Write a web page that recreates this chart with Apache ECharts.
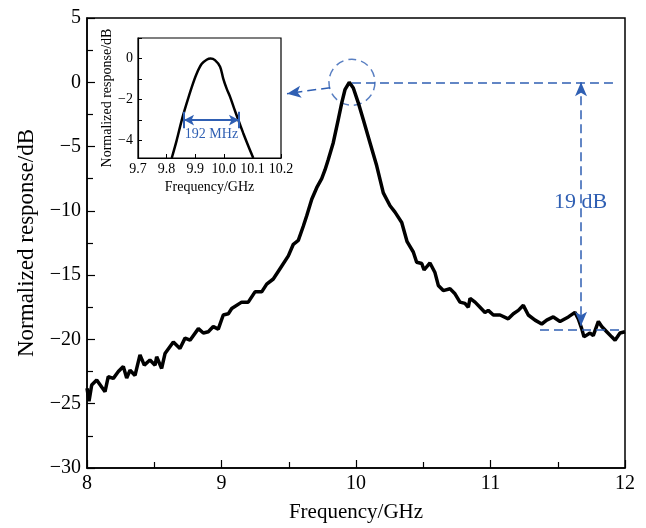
<!DOCTYPE html>
<html>
<head>
<meta charset="utf-8">
<script src="https://cdn.jsdelivr.net/npm/echarts@6/dist/echarts.min.js"></script>
<style>
html, body { margin: 0; padding: 0; background: #fff; }
#chart { width: 646px; height: 528px; }
</style>
</head>
<body>
<div id="chart"></div>
<script>
// main trace
var freqMain = [8.000, 8.015, 8.035, 8.072, 8.109, 8.134, 8.158, 8.196, 8.233, 8.270,
	8.295, 8.320, 8.357, 8.394, 8.426, 8.468, 8.506, 8.518, 8.555, 8.580,
	8.642, 8.691, 8.729, 8.766, 8.828, 8.865, 8.902, 8.939, 8.976, 9.013,
	9.051, 9.076, 9.150, 9.199, 9.249, 9.299, 9.336, 9.385, 9.435, 9.497,
	9.534, 9.571, 9.608, 9.633, 9.671, 9.708, 9.745, 9.770, 9.794, 9.831,
	9.868, 9.894, 9.918, 9.950, 9.980, 10.017, 10.054, 10.104, 10.154, 10.203,
	10.253, 10.290, 10.340, 10.380, 10.426, 10.451, 10.489, 10.506, 10.550, 10.587,
	10.612, 10.649, 10.699, 10.736, 10.773, 10.810, 10.835, 10.848, 10.885, 10.922,
	10.959, 10.983, 11.021, 11.071, 11.132, 11.170, 11.207, 11.244, 11.281, 11.331,
	11.381, 11.418, 11.467, 11.517, 11.579, 11.628, 11.653, 11.678, 11.695, 11.740,
	11.764, 11.802, 11.827, 11.864, 11.901, 11.926, 11.963, 12.000];
var respMain = [-23.8, -24.8, -23.55, -23.16, -23.7, -24.06, -22.9, -23.03, -22.5, -22.1,
	-23.0, -22.4, -22.8, -21.2, -22.0, -21.6, -22.0, -21.35, -22.26, -21.1,
	-20.2, -20.7, -19.9, -20.06, -19.16, -19.5, -19.4, -19.0, -19.2, -18.1,
	-18.0, -17.6, -17.1, -17.1, -16.3, -16.3, -15.7, -15.3, -14.5, -13.5,
	-12.6, -12.3, -11.2, -10.4, -9.1, -8.2, -7.5, -6.8, -6.0, -4.7,
	-2.9, -1.6, -0.58, 0, -0.44, -1.6, -2.9, -4.7, -6.5, -8.6,
	-9.6, -10.1, -10.9, -12.4, -13.2, -14.0, -14.1, -14.6, -14.05, -14.8,
	-15.8, -16.2, -16.06, -16.45, -17.1, -17.2, -17.5, -16.8, -17.1, -17.5,
	-17.9, -17.74, -18.1, -18.1, -18.4, -18.0, -17.74, -17.35, -18.1, -18.5,
	-18.8, -18.5, -18.25, -18.6, -18.25, -17.9, -18.4, -19.16, -19.8, -19.5,
	-19.7, -18.6, -19.0, -19.4, -19.8, -20.06, -19.5, -19.4];

// zoomed peak (inset)
var freqInset = [9.818, 9.835, 9.853, 9.870, 9.888, 9.905, 9.923, 9.940, 9.954, 9.969,
	9.987, 9.998, 10.010, 10.022, 10.036, 10.051, 10.068, 10.086, 10.103];
var respInset = [-4.85, -4.0, -3.0, -2.19, -1.39, -0.74, -0.26, -0.06, 0, -0.08,
	-0.4, -0.98, -1.47, -1.87, -2.43, -3.0, -3.64, -4.28, -4.85];

var mainYTicks = [5, 0, -5, -10, -15, -20, -25, -30];
var insetYLabels = [0, -2, -4];
var insetYTicks = [1, 0, -1, -2, -3, -4];

// annotation values
var peakPoint = [9.97, 0];
var dropTop = 0, dropBottom = -18.93, dropFreq = 11.673;
var floorLevel = -19.24, floorFrom = 11.368, floorTo = 11.985;
var bwLeft = 9.861, bwRight = 10.053, bwLevel = -3;

var blue = '#2f5fb3';
var serif = 'Liberation Serif';

function zip(a, b) {
	var out = [];
	for (var i = 0; i < a.length; i++) out.push([a[i], b[i]]);
	return out;
}
function minus(v) {
	return v < 0 ? '\u2212' + Math.abs(v) : String(v);
}

var chart = echarts.init(document.getElementById('chart'));
var option = {
	animation: false,
	grid: [
		{
			left: 87, top: 18, width: 538, height: 452,
			show: true, borderColor: '#000', borderWidth: 1.5, backgroundColor: '#fff'
		},
		{
			left: 138, top: 38, width: 143, height: 120,
			show: true, borderColor: '#000', borderWidth: 1.2, backgroundColor: '#fff'
		}
	],
	xAxis: [
		{
			gridIndex: 0, type: 'value', min: 8, max: 12, interval: 1,
			name: 'Frequency/GHz', nameLocation: 'middle', nameGap: 34,
			nameTextStyle: { fontFamily: serif, fontSize: 21, color: '#000' },
			axisLine: { onZero: false, lineStyle: { color: '#000', width: 1.5 } },
			axisTick: { inside: true, length: 8, lineStyle: { color: '#000', width: 1.2 } },
			minorTick: { show: true, splitNumber: 2, length: 6, lineStyle: { color: '#000', width: 1.2 } },
			axisLabel: { fontFamily: serif, fontSize: 20, color: '#000', margin: 6 },
			splitLine: { show: false }
		},
		{
			gridIndex: 1, type: 'value', min: 9.7, max: 10.2, interval: 0.1,
			name: 'Frequency/GHz', nameLocation: 'middle', nameGap: 22,
			nameTextStyle: { fontFamily: serif, fontSize: 14, color: '#000' },
			axisLine: { onZero: false, lineStyle: { color: '#000', width: 1.2 } },
			axisTick: { inside: true, length: 4, lineStyle: { color: '#000' } },
			axisLabel: {
				fontFamily: serif, fontSize: 14, color: '#000', margin: 4,
				formatter: function (v) { return v.toFixed(1); }
			},
			splitLine: { show: false }
		}
	],
	yAxis: [
		{
			gridIndex: 0, type: 'value', min: -30, max: 5, interval: 5,
			name: 'Normalized response/dB', nameLocation: 'middle', nameGap: 45,
			nameTextStyle: { fontFamily: serif, fontSize: 23, color: '#000' },
			axisLine: { onZero: false, lineStyle: { color: '#000', width: 1.5 } },
			axisTick: { inside: true, length: 8, lineStyle: { color: '#000', width: 1.2 } },
			minorTick: { show: true, splitNumber: 2, length: 6, lineStyle: { color: '#000', width: 1.2 } },
			axisLabel: {
				fontFamily: serif, fontSize: 20, color: '#000', margin: 6,
				customValues: mainYTicks, formatter: minus
			},
			splitLine: { show: false }
		},
		{
			gridIndex: 1, type: 'value', min: -4.85, max: 1,
			name: 'Normalized response/dB', nameLocation: 'middle', nameGap: 21,
			nameTextStyle: { fontFamily: serif, fontSize: 14, color: '#000' },
			axisLine: { onZero: false, lineStyle: { color: '#000', width: 1.2 } },
			axisTick: { inside: true, length: 4, customValues: insetYTicks, lineStyle: { color: '#000' } },
			axisLabel: {
				fontFamily: serif, fontSize: 14, color: '#000', margin: 5,
				customValues: insetYLabels, formatter: minus
			},
			splitLine: { show: false }
		}
	],
	series: [
		{
			name: 'response',
			type: 'line',
			xAxisIndex: 0, yAxisIndex: 0,
			data: zip(freqMain, respMain),
			showSymbol: false,
			lineStyle: { color: '#000', width: 3.5 },
			markLine: {
				silent: true,
				symbolSize: [9, 14],
				label: { show: false },
				lineStyle: { color: blue, width: 1.5, type: [9, 5] },
				data: [
					[{ coord: [peakPoint[0], dropTop], symbol: 'none' }, { coord: [11.926, dropTop], symbol: 'none' }],
					[{ coord: [floorFrom, floorLevel], symbol: 'none' }, { coord: [floorTo, floorLevel], symbol: 'none' }],
					[{ coord: [dropFreq, dropTop], symbol: 'arrow' }, { coord: [dropFreq, dropBottom], symbol: 'arrow' }],
					[{ coord: [9.807, -0.42], symbol: 'none' }, { coord: [9.487, -0.885], symbol: 'arrow' }]
				]
			},
			markPoint: {
				silent: true,
				symbol: 'circle', symbolSize: 1,
				itemStyle: { color: 'rgba(0,0,0,0)' },
				label: { show: true, position: 'inside', fontFamily: serif, fontSize: 22, color: blue, formatter: '19 dB' },
				data: [{ coord: [11.67, -9.3] }]
			}
		},
		{
			name: 'peak marker',
			type: 'scatter',
			xAxisIndex: 0, yAxisIndex: 0,
			data: [peakPoint],
			symbolSize: 46,
			silent: true,
			itemStyle: { color: 'rgba(0,0,0,0)', borderColor: blue, borderWidth: 1.5, borderType: [8, 5] }
		},
		{
			name: 'inset',
			type: 'line',
			xAxisIndex: 1, yAxisIndex: 1,
			data: zip(freqInset, respInset),
			showSymbol: false,
			smooth: 0.3,
			lineStyle: { color: '#000', width: 2.5 },
			markLine: {
				silent: true,
				symbolSize: [8, 10],
				label: { show: false },
				lineStyle: { color: blue, width: 2, type: 'solid' },
				data: [
					[{ coord: [bwLeft, bwLevel], symbol: 'arrow' }, { coord: [bwRight, bwLevel], symbol: 'arrow' }],
					[{ coord: [bwLeft, -2.6], symbol: 'none' }, { coord: [bwLeft, -3.4], symbol: 'none' }],
					[{ coord: [bwRight, -2.6], symbol: 'none' }, { coord: [bwRight, -3.4], symbol: 'none' }]
				]
			},
			markPoint: {
				silent: true,
				symbol: 'circle', symbolSize: 1,
				itemStyle: { color: 'rgba(0,0,0,0)' },
				label: { show: true, position: 'inside', fontFamily: serif, fontSize: 14, color: blue, formatter: '192 MHz' },
				data: [{ coord: [9.957, -3.7] }]
			}
		}
	]
};
chart.setOption(option);
window.addEventListener('resize', function () { chart.resize(); });
</script>
</body>
</html>
